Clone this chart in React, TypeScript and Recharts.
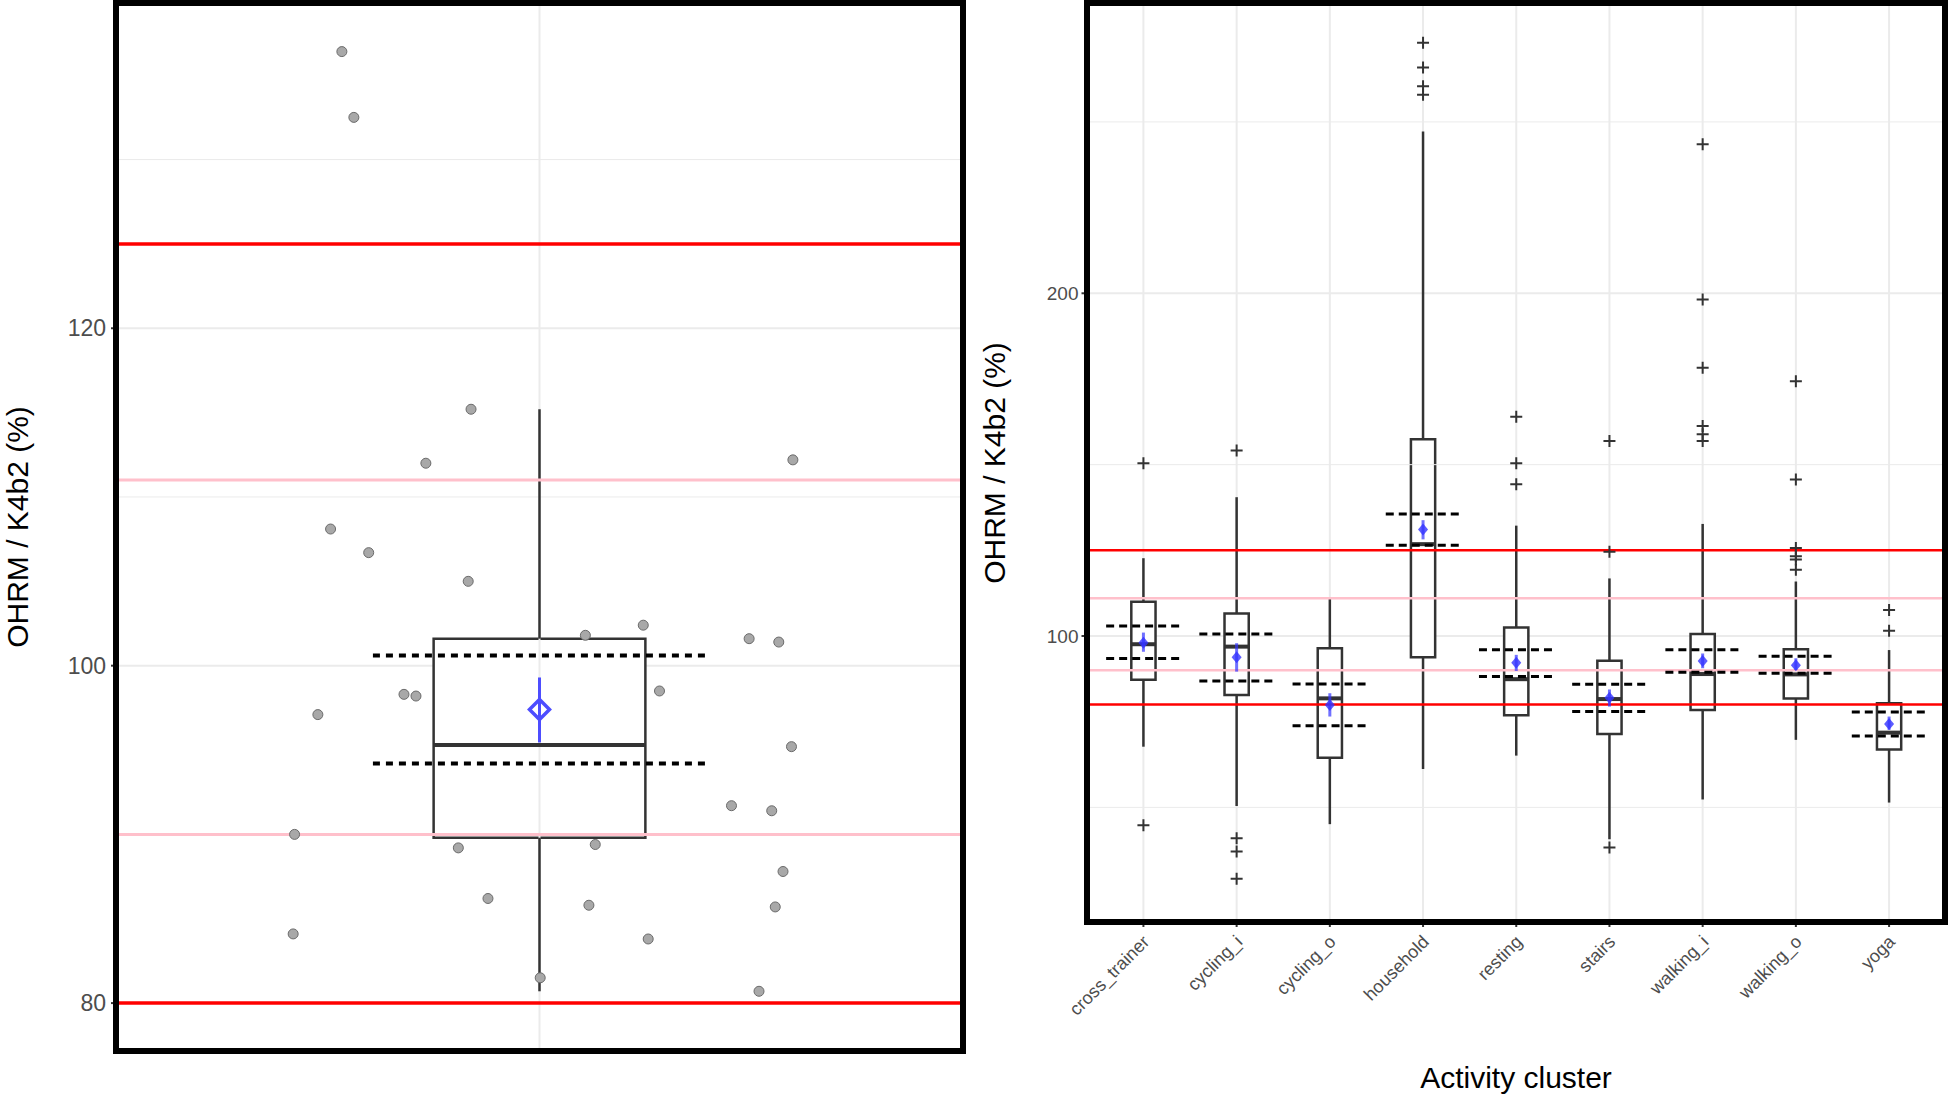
import React from "react";
import {
  ComposedChart,
  XAxis,
  YAxis,
  CartesianGrid,
  ReferenceLine,
  ReferenceArea,
  Scatter,
  ErrorBar,
} from "recharts";

const FONT = "'Liberation Sans', Arial, Helvetica, sans-serif";

// thresholds drawn across both panels
const redLines = [80, 125];
const pinkLines = [90, 111];

// ---- left panel: every subject pooled (jittered x) ----
const pooledX = [
  0.72, 0.737, 0.903, 0.839, 1.359, 0.704, 0.758, 0.899, 1.065, 1.147, 1.297, 1.339, 0.808, 0.825, 1.17,
  0.686, 1.357, 1.272, 1.329, 0.653, 0.885, 1.079, 1.345, 0.927, 1.07, 1.334, 0.651, 1.154, 1.001, 1.311,
];
const pooledY = [
  136.4, 132.5, 115.2, 112.0, 112.2, 108.1, 106.7, 105.0, 101.8, 102.4, 101.6, 101.4, 98.3, 98.2, 98.5,
  97.1, 95.2, 91.7, 91.4, 90.0, 89.2, 89.4, 87.8, 86.2, 85.8, 85.7, 84.1, 83.8, 81.5, 80.7,
];
const pooledBox = { low: 80.7, q1: 89.8, median: 95.3, q3: 101.6, high: 115.2 };
const pooledNotch = [94.2, 100.6];
const pooledMean = { mean: 97.4, lo: 95.45, hi: 99.3 };
const leftTicks = [80, 100, 120];
const leftMinor = [90, 110, 130];

// ---- right panel: per activity cluster ----
const categories = [
  "cross_trainer",
  "cycling_i",
  "cycling_o",
  "household",
  "resting",
  "stairs",
  "walking_i",
  "walking_o",
  "yoga",
];
const q1 = [87.2, 82.8, 64.5, 93.8, 76.9, 71.4, 78.4, 81.8, 66.9];
const median = [97.6, 96.9, 81.8, 126.8, 87.4, 81.6, 88.9, 88.8, 71.8];
const q3 = [110.0, 106.6, 96.4, 157.4, 102.5, 92.8, 100.6, 96.1, 80.4];
const whiskerLow = [67.7, 50.4, 45.1, 61.2, 65.1, 40.7, 52.3, 69.7, 51.4];
const whiskerHigh = [122.7, 140.5, 111.0, 247.2, 132.2, 116.8, 132.7, 115.9, 95.9];
const notchLow = [93.4, 86.9, 73.8, 126.5, 88.2, 78.0, 89.4, 89.1, 70.8];
const notchHigh = [102.9, 100.6, 86.0, 135.6, 96.0, 85.9, 96.0, 94.1, 77.8];
const means = [98.0, 93.8, 79.9, 131.1, 92.2, 82.0, 92.7, 91.5, 74.3];
const meanLow = [95.4, 89.6, 76.5, 128.2, 89.8, 79.4, 90.6, 90.1, 72.6];
const meanHigh = [101.0, 97.9, 83.3, 133.8, 94.5, 84.4, 94.9, 93.5, 76.5];
const outliers = [
  [150.4, 44.8],
  [154.1, 41.0, 37.1, 29.2],
  [],
  [273.1, 265.9, 260.4, 257.9],
  [164.0, 150.4, 144.3],
  [156.9, 124.6, 38.3],
  [243.5, 198.2, 178.3, 161.3, 158.9, 156.9],
  [174.3, 145.7, 125.7, 123.3, 122.3, 119.3],
  [107.6, 101.5],
];
const rightTicks = [100, 200];
const rightMinor = [50, 150, 250];

const GRID = "#ebebeb";
const INK = "#333333";

const pooledData = pooledX.map((x, i) => ({ x, y: pooledY[i] }));
const pooledMeanData = [
  { x: 1, y: pooledMean.mean, err: [pooledMean.mean - pooledMean.lo, pooledMean.hi - pooledMean.mean] },
];
const catPos = categories.map((_, i) => i + 1);
const meanData = catPos.map((x, i) => ({ x, y: means[i], err: [means[i] - meanLow[i], meanHigh[i] - means[i]] }));
const outlierData = outliers.flatMap((vals, i) => vals.map((y) => ({ x: i + 1, y })));

const Cross = (p: any) => (
  <path d={`M${p.cx - 6},${p.cy}h12M${p.cx},${p.cy - 6}v12`} stroke={INK} strokeWidth={2} fill="none" />
);

const FilledDiamond = (p: any) => (
  <path
    d={`M${p.cx},${p.cy - 6}L${p.cx + 5},${p.cy}L${p.cx},${p.cy + 6}L${p.cx - 5},${p.cy}Z`}
    fill="#3333ff"
    fillOpacity={0.8}
  />
);

const HollowDiamond = (p: any) => (
  <path
    d={`M${p.cx},${p.cy - 10}L${p.cx + 10},${p.cy}L${p.cx},${p.cy + 10}L${p.cx - 10},${p.cy}Z`}
    fill="none"
    stroke="#4d4dff"
    strokeWidth={3.5}
  />
);

const Dot = (p: any) => <circle cx={p.cx} cy={p.cy} r={5} fill="#a8a8a8" stroke="#6b6b6b" strokeWidth={1} />;

const CategoryTick = ({ x, y, payload }: any) => {
  const tx = x + 7;
  const ty = y + 14;
  return (
    <text
      x={tx}
      y={ty}
      textAnchor="end"
      transform={`rotate(-45, ${tx}, ${ty})`}
      fontSize={18}
      fill="#4d4d4d"
      fontFamily={FONT}
    >
      {categories[payload.value - 1]}
    </text>
  );
};

function PooledPanel() {
  const b = pooledBox;
  return (
    <ComposedChart width={1000} height={1096} margin={{ top: 3, right: 37, bottom: 45, left: 0 }}>
      <CartesianGrid vertical={false} stroke={GRID} strokeWidth={2} />
      <XAxis type="number" dataKey="x" domain={[0.4, 1.6]} hide />
      <YAxis
        type="number"
        domain={[77.16, 139.28]}
        ticks={leftTicks}
        interval={0}
        width={116}
        axisLine={false}
        tickSize={5}
        tickMargin={5}
        tickLine={{ stroke: INK, strokeWidth: 2 }}
        tick={{ fontSize: 23, fill: "#4d4d4d", fontFamily: FONT }}
      />
      <ReferenceLine x={1} stroke={GRID} strokeWidth={2} />
      {leftMinor.map((v) => (
        <ReferenceLine key={`m${v}`} y={v} stroke={GRID} strokeWidth={1} />
      ))}
      <ReferenceLine segment={[{ x: 1, y: b.q3 }, { x: 1, y: b.high }]} stroke={INK} strokeWidth={2.5} />
      <ReferenceLine segment={[{ x: 1, y: b.low }, { x: 1, y: b.q1 }]} stroke={INK} strokeWidth={2.5} />
      <ReferenceArea x1={0.85} x2={1.15} y1={b.q1} y2={b.q3} fill="#ffffff" fillOpacity={1} stroke={INK} strokeWidth={2.5} />
      {pinkLines.map((v) => (
        <ReferenceLine key={`p${v}`} y={v} stroke="#ffc0cb" strokeWidth={3} />
      ))}
      {redLines.map((v) => (
        <ReferenceLine key={`r${v}`} y={v} stroke="#ff0000" strokeWidth={3.5} />
      ))}
      <ReferenceLine segment={[{ x: 0.85, y: b.median }, { x: 1.15, y: b.median }]} stroke={INK} strokeWidth={4} />
      {pooledNotch.map((v) => (
        <ReferenceLine
          key={`n${v}`}
          segment={[{ x: 0.764, y: v }, { x: 1.236, y: v }]}
          stroke="#000"
          strokeWidth={4}
          strokeDasharray="7 6"
        />
      ))}
      <Scatter data={pooledData} dataKey="y" shape={Dot} isAnimationActive={false} />
      <Scatter data={pooledMeanData} dataKey="y" shape={HollowDiamond} isAnimationActive={false}>
        <ErrorBar dataKey="err" direction="y" width={0} stroke="#4d4dff" strokeWidth={3} />
      </Scatter>
    </ComposedChart>
  );
}

function ClusterPanel() {
  return (
    <ComposedChart width={948} height={1096} margin={{ top: 3, right: 3, bottom: 54, left: 0 }}>
      <CartesianGrid stroke={GRID} strokeWidth={2} />
      <XAxis
        type="number"
        dataKey="x"
        domain={[0.4, 9.6]}
        ticks={catPos}
        interval={0}
        height={120}
        axisLine={false}
        tickSize={5}
        tickMargin={2}
        tickLine={{ stroke: INK, strokeWidth: 2 }}
        tick={(p: any) => <CategoryTick {...p} />}
      />
      <YAxis
        type="number"
        domain={[16.55, 284.7]}
        ticks={rightTicks}
        interval={0}
        width={87.5}
        axisLine={false}
        tickSize={6}
        tickMargin={3}
        tickLine={{ stroke: INK, strokeWidth: 2 }}
        tick={{ fontSize: 19, fill: "#4d4d4d", fontFamily: FONT }}
      />
      {rightMinor.map((v) => (
        <ReferenceLine key={`m${v}`} y={v} stroke={GRID} strokeWidth={1} />
      ))}
      {catPos.map((x, i) => (
        <ReferenceLine key={`wu${x}`} segment={[{ x, y: q3[i] }, { x, y: whiskerHigh[i] }]} stroke={INK} strokeWidth={2.5} />
      ))}
      {catPos.map((x, i) => (
        <ReferenceLine key={`wl${x}`} segment={[{ x, y: whiskerLow[i] }, { x, y: q1[i] }]} stroke={INK} strokeWidth={2.5} />
      ))}
      {catPos.map((x, i) => (
        <ReferenceArea
          key={`b${x}`}
          x1={x - 0.13}
          x2={x + 0.13}
          y1={q1[i]}
          y2={q3[i]}
          fill="#ffffff"
          fillOpacity={1}
          stroke={INK}
          strokeWidth={2.5}
        />
      ))}
      {pinkLines.map((v) => (
        <ReferenceLine key={`p${v}`} y={v} stroke="#ffc0cb" strokeWidth={2.5} />
      ))}
      {redLines.map((v) => (
        <ReferenceLine key={`r${v}`} y={v} stroke="#ff0000" strokeWidth={2.5} />
      ))}
      {catPos.map((x, i) => (
        <ReferenceLine
          key={`md${x}`}
          segment={[{ x: x - 0.13, y: median[i] }, { x: x + 0.13, y: median[i] }]}
          stroke={INK}
          strokeWidth={4}
        />
      ))}
      {catPos.map((x, i) =>
        [notchLow[i], notchHigh[i]].map((v, k) => (
          <ReferenceLine
            key={`n${x}-${k}`}
            segment={[{ x: x - 0.4, y: v }, { x: x + 0.4, y: v }]}
            stroke="#000"
            strokeWidth={3}
            strokeDasharray="8 5"
          />
        ))
      )}
      <Scatter data={outlierData} dataKey="y" shape={Cross} isAnimationActive={false} />
      <Scatter data={meanData} dataKey="y" shape={FilledDiamond} isAnimationActive={false}>
        <ErrorBar dataKey="err" direction="y" width={0} stroke="#3333ff" strokeOpacity={0.7} strokeWidth={3} />
      </Scatter>
    </ComposedChart>
  );
}

const frame = (left: number, top: number, width: number, height: number): React.CSSProperties => ({
  position: "absolute",
  left,
  top,
  width,
  height,
  border: "6px solid #000",
  boxSizing: "border-box",
  pointerEvents: "none",
});

const title: React.CSSProperties = {
  position: "absolute",
  fontFamily: FONT,
  fontSize: 30,
  lineHeight: 1.15,
  color: "#000",
  whiteSpace: "nowrap",
};

export default function App() {
  return (
    <div style={{ position: "absolute", left: 0, top: 0, width: 1948, height: 1096, background: "#fff", overflow: "hidden" }}>
      <div style={{ position: "absolute", left: 0, top: 0 }}>
        <PooledPanel />
      </div>
      <div style={{ position: "absolute", left: 1000, top: 0 }}>
        <ClusterPanel />
      </div>
      <div style={frame(113, 0, 853, 1054)} />
      <div style={frame(1084, 0, 864, 925)} />
      <div style={{ ...title, left: 18, top: 527, transform: "translate(-50%, -50%) rotate(-90deg)" }}>
        OHRM / K4b2 (%)
      </div>
      <div style={{ ...title, left: 995, top: 463, transform: "translate(-50%, -50%) rotate(-90deg)" }}>
        OHRM / K4b2 (%)
      </div>
      <div style={{ ...title, left: 1516, top: 1078, transform: "translate(-50%, -50%)" }}>Activity cluster</div>
    </div>
  );
}
